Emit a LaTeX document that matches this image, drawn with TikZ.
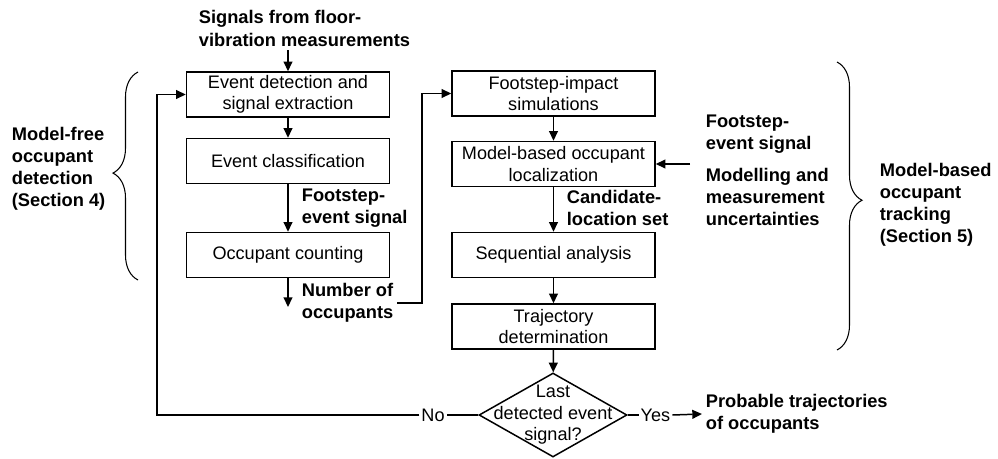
\documentclass[tikz,border=0pt]{standalone}
\usepackage{fontspec}
\setmainfont{Liberation Sans}
\usepackage{tikz}
\usetikzlibrary{arrows.meta, shapes.geometric, decorations.pathreplacing}

\begin{document}
\begin{tikzpicture}[
    box/.style={draw, line width=0.85pt, align=center, minimum width=4.06cm, minimum height=0.9cm, inner sep=1pt, font=\fontsize{10.3}{12.2}\selectfont},
    lbl/.style={align=left, inner sep=2pt, font=\fontsize{10.4}{12.6}\selectfont\bfseries},
    plain/.style={inner sep=1pt, font=\fontsize{10.3}{12.2}\selectfont},
    arr/.style={-{Triangle[length=5.5pt, width=5pt]}, line width=0.85pt},
    curly/.style={decorate, decoration={brace, amplitude=0.5cm}, line width=0.6pt}
]
\useasboundingbox (0,0) rectangle (19.96,-9.18);
% Input signals
\node[lbl, anchor=west] (src) at (3.9,-0.57) {Signals from floor-\\vibration measurements};
% Model-free branch
\node[box] (det) at (5.76,-1.89) {Event detection and\\signal extraction};
\node[box] (cls) at (5.76,-3.22) {Event classification};
\node[box] (cnt) at (5.76,-5.10) {Occupant counting};
\node[lbl, anchor=west] (fes1) at (5.96,-4.16) {Footstep-\\event signal};
\node[lbl, anchor=west] (noc) at (5.96,-6.06) {Number of\\occupants};
\coordinate (cntd) at (5.76,-6.14);
% Model-based branch
\node[box] (fsim) at (11.07,-1.87) {Footstep-impact\\simulations};
\node[box] (loc) at (11.07,-3.28) {Model-based occupant\\localization};
\node[box] (seq) at (11.07,-5.10) {Sequential analysis};
\node[box] (traj) at (11.07,-6.53) {Trajectory\\determination};
\node[lbl, anchor=west] (cand) at (11.26,-4.16) {Candidate-\\location set};
\node[lbl, anchor=west] (fes2) at (14.04,-2.68) {Footstep-\\event signal};
\node[lbl, anchor=west] (unc) at (14.04,-3.94) {Modelling and\\measurement\\uncertainties};
\coordinate (inp) at (13.8,-3.28);
% Decision
\node[diamond, draw, line width=0.85pt, minimum width=2.96cm, minimum height=1.68cm, inner sep=0pt] (dec) at (11.06,-8.30) {};
\node[plain, align=center] (dectxt) at (dec) {Last\\detected event\\signal?};
\node[plain] (no) at (8.66,-8.30) {No};
\node[plain] (yes) at (13.11,-8.30) {Yes};
\node[lbl, anchor=west] (prob) at (14.04,-8.28) {Probable trajectories\\of occupants};
\coordinate (loop) at (3.14,-8.30);
\coordinate (nocr) at (8.44,-6.06);
% Section labels
\node[lbl, anchor=west] (mft) at (0.16,-3.38) {Model-free\\occupant\\detection\\(Section 4)};
\node[lbl, anchor=west] (mbt) at (17.52,-4.10) {Model-based\\occupant\\tracking\\(Section 5)};
% Braces
\draw[curly, decoration={aspect=0.514}] (2.76,-5.60) -- (2.76,-1.44);
\draw[curly, decoration={aspect=0.48}] (16.74,-1.24) -- (16.74,-7.00);
% Connectors
\draw[arr] (src.south -| det.north) -- (det.north);
\draw[arr] (det) -- (cls);
\draw[arr] (cls) -- (cnt);
\draw[arr] (cnt) -- (cntd);
\draw[arr] (noc.east) -- (nocr) |- (fsim.west);
\draw[arr] (fsim) -- (loc);
\draw[arr] (loc) -- (seq);
\draw[arr] (inp) -- (loc.east);
\draw[arr] (seq) -- (traj);
\draw[arr] (traj) -- (dec);
\draw[line width=0.85pt] (dec.west) -- (no.east);
\draw[arr] (no.west) -- (loop) |- (det.west);
\draw[line width=0.85pt] (dec.east) -- (yes.west);
\draw[arr] (yes.east) -- (prob.west);
\end{tikzpicture}
\end{document}
